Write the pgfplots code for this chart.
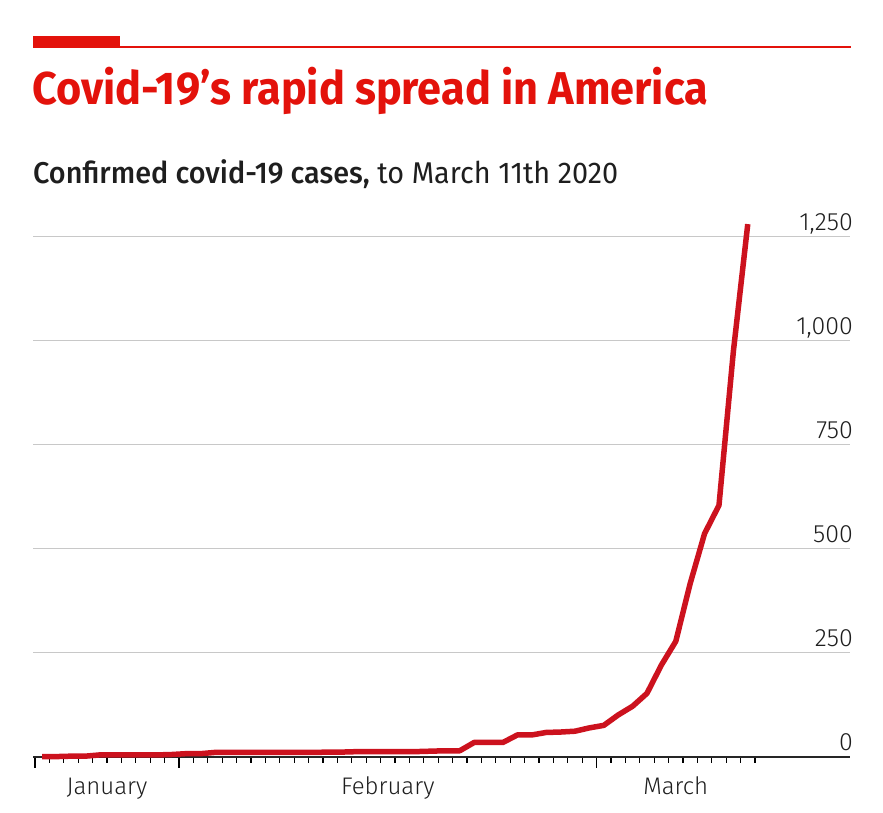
\documentclass[border=0pt]{standalone}
\usepackage{fontspec}
\setmainfont{Fira Sans}
\newfontfamily\titlefont{Fira Sans Bold}[FakeStretch=0.94]
\newfontfamily\subfont{Fira Sans}[FakeStretch=0.96]
\newfontfamily\submedium{Fira Sans Medium}[FakeStretch=0.96]
\newfontfamily\lightfont{Fira Sans Light}
\usepackage{pgfplots}
\pgfplotsset{compat=1.18}
\definecolor{econred}{RGB}{227,18,11}
\definecolor{linered}{RGB}{204,18,30}
\definecolor{gridgray}{RGB}{200,200,200}
\definecolor{txt}{RGB}{30,30,30}
\begin{document}
\begin{tikzpicture}
\path[use as bounding box] (0pt,0pt) rectangle (883pt,813pt);
% top decoration
\fill[econred] (33pt,765pt) rectangle (120pt,777pt);
\draw[econred, line width=1.5pt] (33pt,766pt) -- (851pt,766pt);
% title and subtitle
\node[anchor=base west, inner sep=0pt, text=econred] at (32pt,708pt)
  {\titlefont\fontsize{46}{50}\selectfont Covid-19’s rapid spread in America};
\node[anchor=base west, inner sep=0pt, text=txt] at (33pt,629pt)
  {\fontsize{30}{34}\selectfont{\submedium Confirmed covid-19 cases,}{\subfont\ to March 11th 2020}};
\begin{axis}[
  at={(33pt,56pt)}, anchor=south west,
  width=817pt, height=520pt, scale only axis,
  xmin=-0.139, xmax=56.6, ymin=0, ymax=1250,
  clip=false,
  axis x line*=bottom, axis y line*=right,
  x axis line style={draw=black!85, line width=1.3pt, -},
  y axis line style={draw=none},
  ymajorgrids, grid style={gridgray, line width=1pt},
  ytick={0,250,500,750,1000,1250},
  ytick style={draw=none},
  yticklabel style={anchor=base east, inner sep=0pt, yshift=6pt, xshift=-8pt, text=txt, font=\lightfont\fontsize{25}{28}\selectfont},
  /pgf/number format/assume math mode=true,
  /pgf/number format/1000 sep={,},
  scaled y ticks=false,
  xtick={0,10,39}, xticklabels={,,},
  minor xtick={0,...,50},
  tick align=outside,
  x tick style={black, line width=1.2pt},
  major tick length=11pt, minor tick length=6pt,
  extra x ticks={5,24.5,44.5},
  extra x tick labels={January,February,March},
  extra x tick style={major tick length=0pt, grid=none,
     tick label style={anchor=base, inner sep=0pt, yshift=-38pt, text=txt, font=\lightfont\fontsize{24}{28}\selectfont}},
]
\addplot[linered, line width=5.5pt, line join=round, line cap=butt] coordinates {
(0.5,1) (1.5,1) (2.5,2) (3.5,2) (4.5,5) (5.5,5) (6.5,5) (7.5,5) (8.5,5) (9.5,6)
(10.5,8) (11.5,8) (12.5,11) (13.5,11) (14.5,11) (15.5,11) (16.5,11) (17.5,11) (18.5,11) (19.5,11)
(20.5,12) (21.5,12) (22.5,13) (23.5,13) (24.5,13) (25.5,13) (26.5,13) (27.5,14) (28.5,15) (29.5,15)
(30.5,35) (31.5,35) (32.5,35) (33.5,53) (34.5,53) (35.5,59) (36.5,60) (37.5,62) (38.5,70) (39.5,76)
(40.5,101) (41.5,122) (42.5,153) (43.5,221) (44.5,278) (45.5,417) (46.5,537) (47.5,605) (48.5,975) (49.5,1281)
};
\end{axis}
\end{tikzpicture}
\end{document}
